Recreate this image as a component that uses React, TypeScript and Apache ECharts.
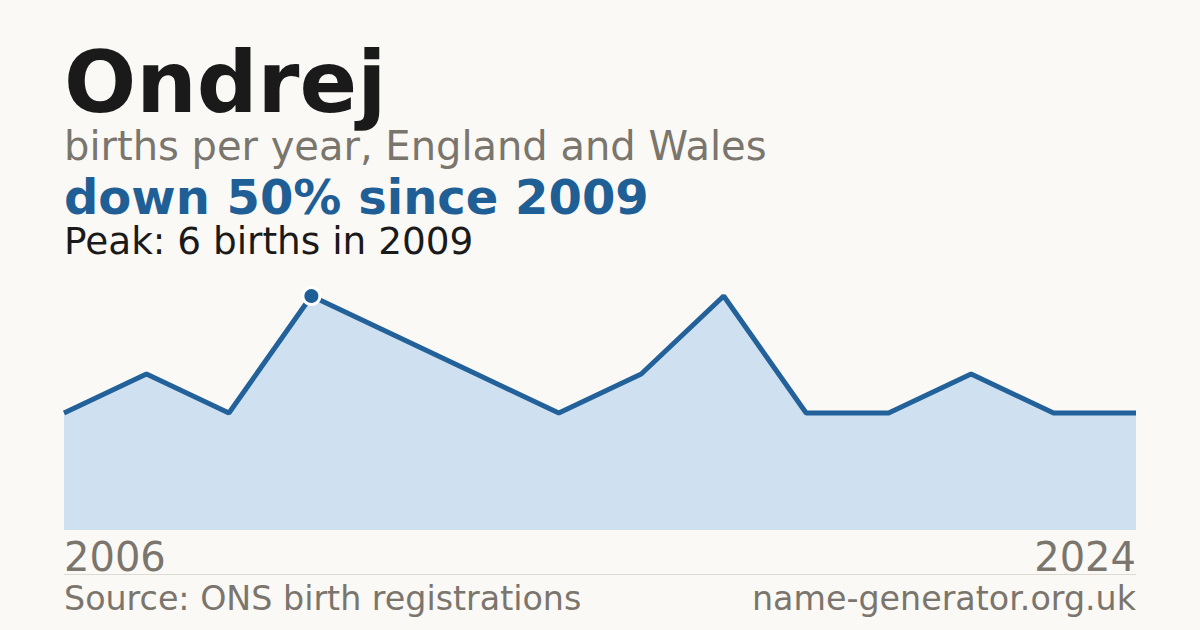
import React, { useEffect, useRef } from 'react'
import * as echarts from 'echarts'

const years = ['2006', '2007', '2008', '2009', '2010', '2011', '2012', '2014', '2016', '2017', '2019', '2021', '2022', '2024']
const births = [3, 4, 3, 6, 5, 4, 3, 4, 6, 3, 3, 4, 3, 3]
const peakIndex = 3

const FONT = '"DejaVu Sans", Verdana, sans-serif'

const App = () => {
  const chartRef: any = useRef()

  useEffect(() => {
    const chart = echarts.init(chartRef.current, null, { renderer: 'svg' })

    const options: any = {
      animation: false,
      backgroundColor: '#faf9f5',
      grid: { left: 64, right: 64, top: 296, bottom: 100 },
      xAxis: {
        type: 'category',
        data: years,
        boundaryGap: false,
        axisLine: { show: false },
        axisTick: { show: false },
        splitLine: { show: false },
        axisLabel: {
          interval: 0,
          margin: 7,
          fontFamily: FONT,
          fontSize: 40,
          color: '#7a756d',
          alignMinLabel: 'left',
          alignMaxLabel: 'right',
          formatter: (v: string, i: number) => (i === 0 || i === years.length - 1 ? v : '')
        }
      },
      yAxis: {
        type: 'value',
        min: 0,
        max: 6,
        show: false,
        splitLine: { show: false }
      },
      series: [
        {
          type: 'line',
          data: births.map((v, i) =>
            i === peakIndex
              ? {
                  value: v,
                  symbol: 'circle',
                  symbolSize: 17,
                  itemStyle: { color: '#1f5f96', borderColor: '#ffffff', borderWidth: 3 }
                }
              : { value: v, symbol: 'none' }
          ),
          showSymbol: true,
          lineStyle: { color: '#22619a', width: 5 },
          areaStyle: { color: '#cfe0f0', opacity: 1 },
          itemStyle: { color: '#1f5f96' },
          z: 3
        }
      ],
      graphic: [
        {
          type: 'text', x: 64, y: 40,
          style: { text: 'Ondrej', font: `bold 85px ${FONT}`, fill: '#1a1a1a', verticalAlign: 'top' }
        },
        {
          type: 'text', x: 64, y: 128,
          style: { text: 'births per year, England and Wales', font: `40px ${FONT}`, lineHeight: 36, fill: '#7a756d', verticalAlign: 'top' }
        },
        {
          type: 'text', x: 64, y: 177,
          style: { text: 'down 50% since 2009', font: `bold 48px ${FONT}`, lineHeight: 40, fill: '#1f5f96', verticalAlign: 'top' }
        },
        {
          type: 'text', x: 64, y: 225,
          style: { text: 'Peak: 6 births in 2009', font: `37.4px ${FONT}`, lineHeight: 32, fill: '#1a1a1a', verticalAlign: 'top' }
        },
        {
          type: 'line',
          shape: { x1: 64, y1: 574.5, x2: 1136, y2: 574.5 },
          style: { stroke: '#dddad3', lineWidth: 1 }
        },
        {
          type: 'text', x: 64, y: 582,
          style: { text: 'Source: ONS birth registrations', font: `33.3px ${FONT}`, fill: '#7a756d', verticalAlign: 'top' }
        },
        {
          type: 'text', x: 1136, y: 582,
          style: { text: 'name-generator.org.uk', font: `33.3px ${FONT}`, fill: '#7a756d', align: 'right', verticalAlign: 'top' }
        }
      ]
    }

    chart.setOption(options)

    return () => {
      chart.dispose()
    }
  }, [])

  return <div style={{ position: 'fixed', left: 0, top: 0, width: 1200, height: 630 }} ref={chartRef}></div>
}

export default App
